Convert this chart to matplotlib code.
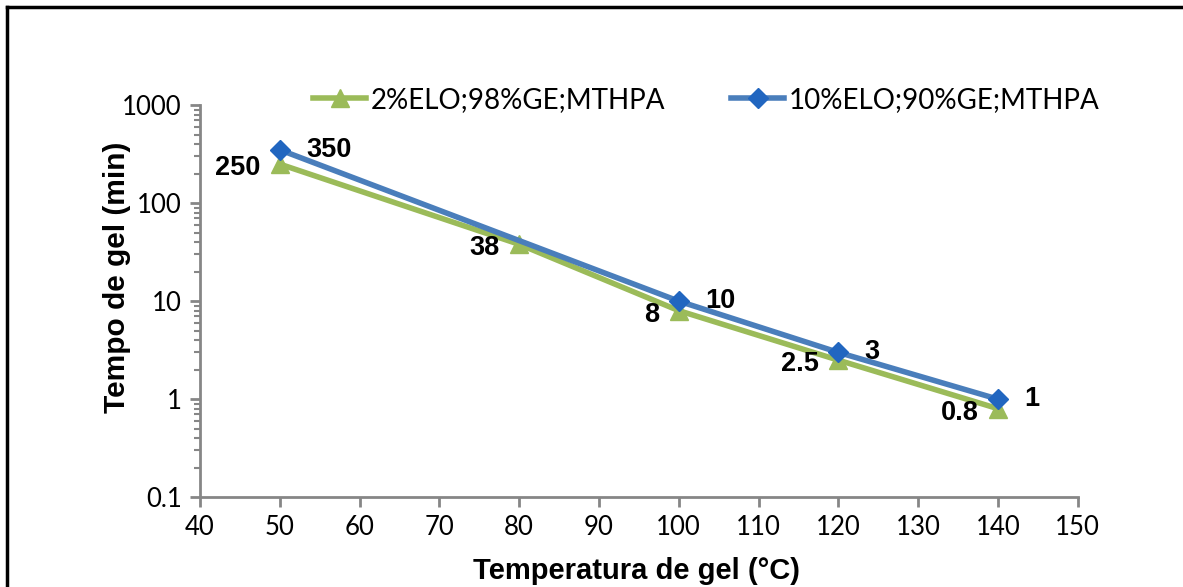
import matplotlib
matplotlib.use("Agg")
import matplotlib.pyplot as plt
from matplotlib.lines import Line2D
from matplotlib.ticker import LogLocator, FixedLocator, FuncFormatter

# gel time vs temperature for the two formulations
temp_2 = [50, 80, 100, 120, 140]
gel_2 = [250, 38, 8, 2.5, 0.8]
temp_10 = [50, 100, 120, 140]
gel_10 = [350, 10, 3, 1]
name_2 = "2%ELO;98%GE;MTHPA"
name_10 = "10%ELO;90%GE;MTHPA"
x_ticks = list(range(40, 151, 10))
y_ticks = [0.1, 1, 10, 100, 1000]

green = "#9BBB59"
blue_line = "#4A7EBB"
blue_mark = "#2166C0"
axis_grey = "#868686"

fig = plt.figure(figsize=(11.83, 5.87), dpi=100)
ax = fig.add_axes([0.169, 0.153, 0.742, 0.668])

ax.plot(temp_2, gel_2, color=green, lw=4, marker="^", ms=13,
        mfc=green, mec=green, label=name_2, zorder=3)
ax.plot(temp_10, gel_10, color=blue_line, lw=4, marker="D", ms=10,
        mfc=blue_mark, mec=blue_mark, label=name_10, zorder=4)

lab_font = dict(family="Liberation Sans", weight="bold", size=19.5)
for x, y in zip(temp_2, gel_2):
    ax.annotate(f"{y:g}", (x, y), xytext=(-14, -3), textcoords="offset points",
                ha="right", va="center", **lab_font)
for x, y in zip(temp_10, gel_10):
    ax.annotate(f"{y:g}", (x, y), xytext=(19, 0), textcoords="offset points",
                ha="left", va="center", **lab_font)

ax.set_yscale("log")
ax.set_ylim(0.1, 1000)
ax.set_xlim(40, 150)
ax.xaxis.set_major_locator(FixedLocator(x_ticks))
ax.yaxis.set_major_locator(FixedLocator(y_ticks))
ax.yaxis.set_minor_locator(LogLocator(base=10, subs=range(2, 10)))
ax.yaxis.set_major_formatter(FuncFormatter(lambda v, p: f"{v:g}"))

for s in ["top", "right"]:
    ax.spines[s].set_visible(False)
for s in ["left", "bottom"]:
    ax.spines[s].set_color(axis_grey)
    ax.spines[s].set_linewidth(2)
ax.tick_params(axis="both", which="major", color=axis_grey, width=2, length=7,
               labelsize=18.5, pad=6)
ax.tick_params(axis="y", which="minor", color=axis_grey, width=1.5, length=4)
for t in ax.get_xticklabels() + ax.get_yticklabels():
    t.set_family("Lato")

ax.set_xlabel("Temperatura de gel (°C)", family="Liberation Sans",
              weight="bold", size=21)
ax.set_ylabel("Tempo de gel (min)", family="Liberation Sans",
              weight="bold", size=21.5)
ax.xaxis.set_label_coords(0.497, -0.152)
ax.yaxis.set_label_coords(-0.079, 0.56)

fig.legend(loc="center", bbox_to_anchor=(0.597, 0.83), ncol=2, frameon=False,
           prop=dict(family="Lato", size=20), handlelength=1.9,
           columnspacing=2.4, handletextpad=0.15)

# outer chart frame
fig.add_artist(Line2D([0.006, 1.0], [0.988, 0.988], color="black", lw=2.5,
                      transform=fig.transFigure))
fig.add_artist(Line2D([0.006, 0.006], [0.0, 0.988], color="black", lw=2.5,
                      transform=fig.transFigure))

fig.savefig("out.png", dpi=100)
